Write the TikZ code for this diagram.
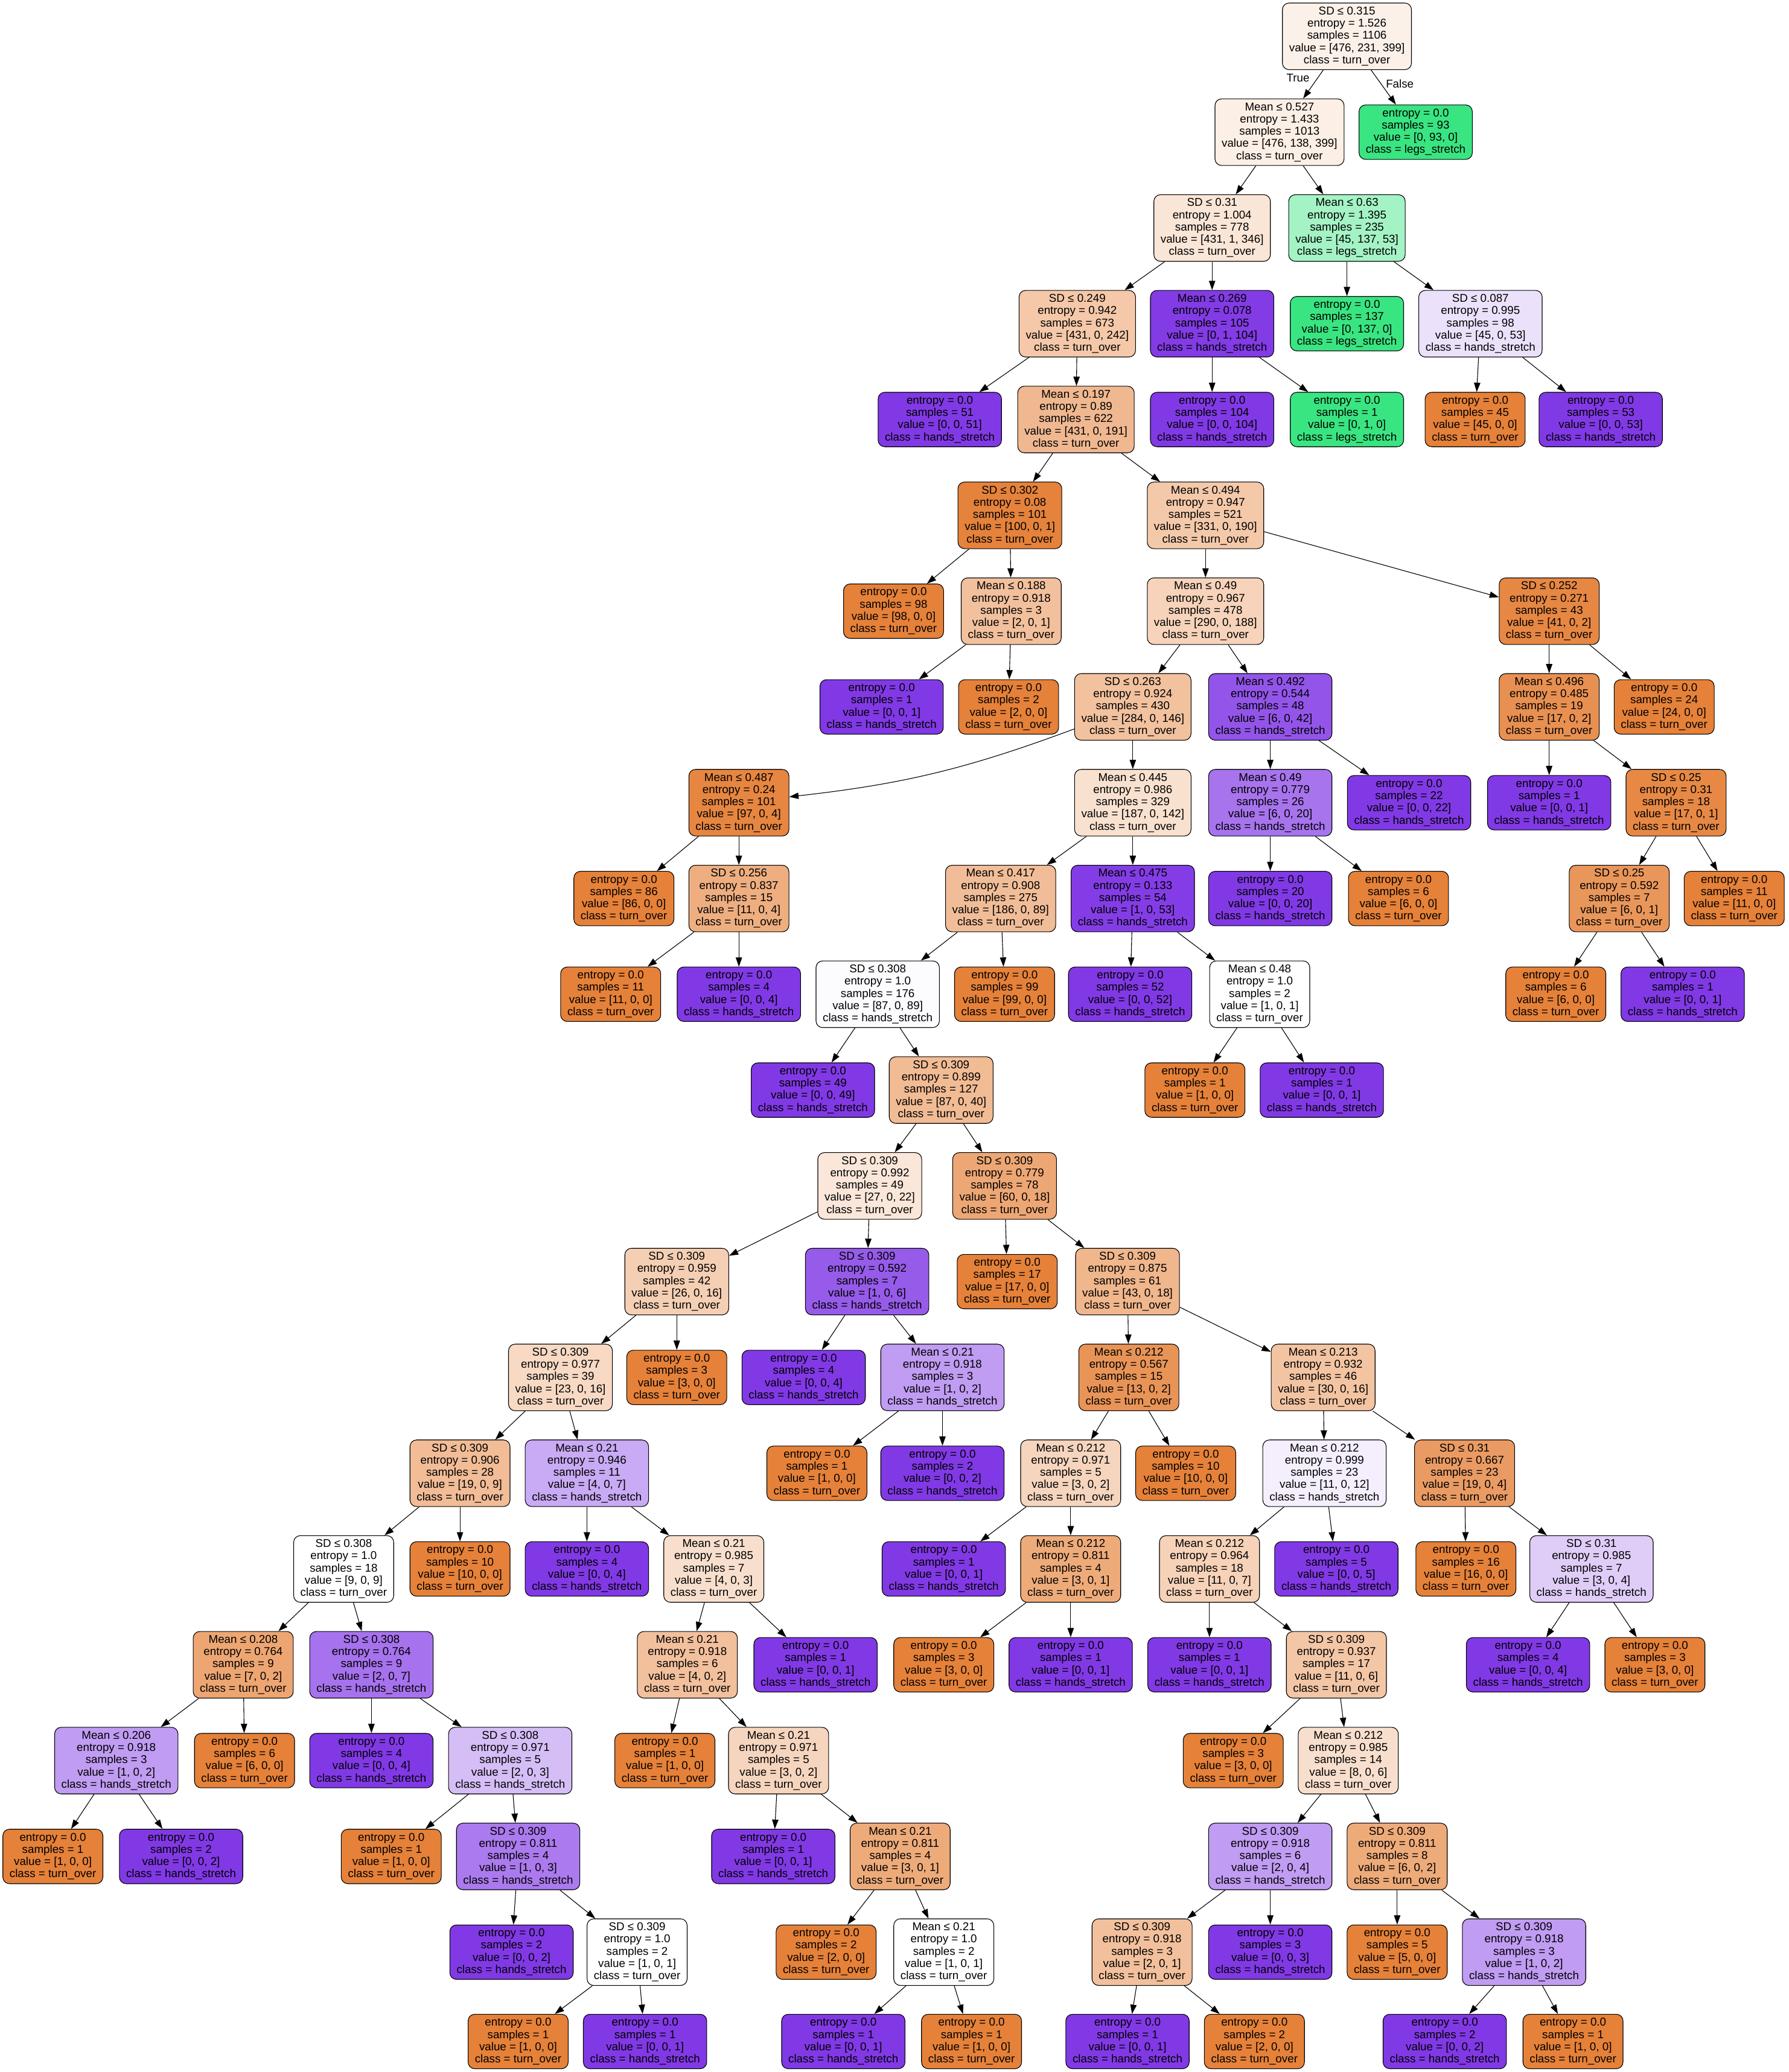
\documentclass[tikz,border=0pt]{standalone}
\usepackage{fontspec}
\setmainfont{Liberation Sans}
\usetikzlibrary{arrows.meta}
\definecolor{TO}{RGB}{229,129,57}
\definecolor{LS}{RGB}{57,229,129}
\definecolor{HS}{RGB}{129,57,229}
\newcommand\itx[5]{#1\\entropy = #2\\samples = #3\\value = [#4]\\class = #5}
\newcommand\ltx[3]{entropy = 0.0\\samples = #1\\value = [#2]\\class = #3}
\newcommand\clsto{turn\_over}
\newcommand\clshs{hands\_stretch}
\newcommand\clsls{legs\_stretch}
\tikzset{
  box/.style={draw=black, line width=0.5pt, rounded corners=5pt, align=center,
    inner xsep=5.1pt, inner ysep=0pt, font=\fontsize{8.57}{9.25}\selectfont},
  int/.style={box, minimum height=50.4pt},
  leaf/.style={box, minimum height=41.2pt},
  lto/.style={leaf, fill=TO},
  lhs/.style={leaf, fill=HS},
  lls/.style={leaf, fill=LS},
  edge/.style={-{Triangle[length=7pt,width=4.8pt]}, line width=0.5pt, draw=black},
  elab/.style={inner sep=0pt, font=\fontsize{8.57}{9.25}\selectfont}
}
\begin{document}
\begin{tikzpicture}[x=1pt,y=-1pt]
\path[use as bounding box, fill=white] (0,0) rectangle (1353,1567.6);
% row 0
\node[int, fill=TO!11!white] (n0) at (1019,27.5) {\itx{SD ≤ 0.315}{1.526}{1106}{476, 231, 399}{\clsto}};
% row 1
\node[int, fill=TO!13!white] (n1) at (968,100.0) {\itx{Mean ≤ 0.527}{1.433}{1013}{476, 138, 399}{\clsto}};
\node[lls] (n2) at (1071,100.0) {\ltx{93}{0, 93, 0}{\clsls}};
% row 2
\node[int, fill=TO!20!white] (n3) at (917,172.5) {\itx{SD ≤ 0.31}{1.004}{778}{431, 1, 346}{\clsto}};
\node[int, fill=LS!46!white] (n4) at (1019,172.5) {\itx{Mean ≤ 0.63}{1.395}{235}{45, 137, 53}{\clsls}};
% row 3
\node[int, fill=TO!44!white] (n5) at (815,244.9) {\itx{SD ≤ 0.249}{0.942}{673}{431, 0, 242}{\clsto}};
\node[int, fill=HS!99!white] (n6) at (917,244.9) {\itx{Mean ≤ 0.269}{0.078}{105}{0, 1, 104}{\clshs}};
\node[lls] (n7) at (1019,244.9) {\ltx{137}{0, 137, 0}{\clsls}};
\node[int, fill=HS!15!white] (n8) at (1120,244.9) {\itx{SD ≤ 0.087}{0.995}{98}{45, 0, 53}{\clshs}};
% row 4
\node[lhs] (n9) at (711,317.4) {\ltx{51}{0, 0, 51}{\clshs}};
\node[int, fill=TO!56!white] (n10) at (814,317.4) {\itx{Mean ≤ 0.197}{0.89}{622}{431, 0, 191}{\clsto}};
\node[lhs] (n11) at (917,317.4) {\ltx{104}{0, 0, 104}{\clshs}};
\node[lls] (n12) at (1019,317.4) {\ltx{1}{0, 1, 0}{\clsls}};
\node[lto] (n13) at (1116,317.4) {\ltx{45}{45, 0, 0}{\clsto}};
\node[lhs] (n14) at (1211,317.4) {\ltx{53}{0, 0, 53}{\clshs}};
% row 5
\node[int, fill=TO!99!white] (n15) at (764,389.9) {\itx{SD ≤ 0.302}{0.08}{101}{100, 0, 1}{\clsto}};
\node[int, fill=TO!43!white] (n16) at (912,389.9) {\itx{Mean ≤ 0.494}{0.947}{521}{331, 0, 190}{\clsto}};
% row 6
\node[lto] (n17) at (676,462.4) {\ltx{98}{98, 0, 0}{\clsto}};
\node[int, fill=TO!50!white] (n18) at (765,462.4) {\itx{Mean ≤ 0.188}{0.918}{3}{2, 0, 1}{\clsto}};
\node[int, fill=TO!35!white] (n19) at (912,462.4) {\itx{Mean ≤ 0.49}{0.967}{478}{290, 0, 188}{\clsto}};
\node[int, fill=TO!95!white] (n20) at (1172,462.4) {\itx{SD ≤ 0.252}{0.271}{43}{41, 0, 2}{\clsto}};
% row 7
\node[lhs] (n21) at (667,534.8) {\ltx{1}{0, 0, 1}{\clshs}};
\node[lto] (n22) at (763,534.8) {\ltx{2}{2, 0, 0}{\clsto}};
\node[int, fill=TO!49!white] (n23) at (857,534.8) {\itx{SD ≤ 0.263}{0.924}{430}{284, 0, 146}{\clsto}};
\node[int, fill=HS!86!white] (n24) at (961,534.8) {\itx{Mean ≤ 0.492}{0.544}{48}{6, 0, 42}{\clshs}};
\node[int, fill=TO!88!white] (n25) at (1172,534.8) {\itx{Mean ≤ 0.496}{0.485}{19}{17, 0, 2}{\clsto}};
\node[lto] (n26) at (1259,534.8) {\ltx{24}{24, 0, 0}{\clsto}};
% row 8
\node[int, fill=TO!96!white] (n27) at (559,607.3) {\itx{Mean ≤ 0.487}{0.24}{101}{97, 0, 4}{\clsto}};
\node[int, fill=TO!24!white] (n28) at (857,607.3) {\itx{Mean ≤ 0.445}{0.986}{329}{187, 0, 142}{\clsto}};
\node[int, fill=HS!70!white] (n29) at (961,607.3) {\itx{Mean ≤ 0.49}{0.779}{26}{6, 0, 20}{\clshs}};
\node[lhs] (n30) at (1066,607.3) {\ltx{22}{0, 0, 22}{\clshs}};
\node[lhs] (n31) at (1172,607.3) {\ltx{1}{0, 0, 1}{\clshs}};
\node[int, fill=TO!94!white] (n32) at (1268,607.3) {\itx{SD ≤ 0.25}{0.31}{18}{17, 0, 1}{\clsto}};
% row 9
\node[lto] (n33) at (472,679.8) {\ltx{86}{86, 0, 0}{\clsto}};
\node[int, fill=TO!64!white] (n34) at (559,679.8) {\itx{SD ≤ 0.256}{0.837}{15}{11, 0, 4}{\clsto}};
\node[int, fill=TO!52!white] (n35) at (757,679.8) {\itx{Mean ≤ 0.417}{0.908}{275}{186, 0, 89}{\clsto}};
\node[int, fill=HS!98!white] (n36) at (857,679.8) {\itx{Mean ≤ 0.475}{0.133}{54}{1, 0, 53}{\clshs}};
\node[lhs] (n37) at (961,679.8) {\ltx{20}{0, 0, 20}{\clshs}};
\node[lto] (n38) at (1058,679.8) {\ltx{6}{6, 0, 0}{\clsto}};
\node[int, fill=TO!83!white] (n39) at (1225,679.8) {\itx{SD ≤ 0.25}{0.592}{7}{6, 0, 1}{\clsto}};
\node[lto] (n40) at (1312,679.8) {\ltx{11}{11, 0, 0}{\clsto}};
% row 10
\node[lto] (n41) at (462,752.2) {\ltx{11}{11, 0, 0}{\clsto}};
\node[lhs] (n42) at (559,752.2) {\ltx{4}{0, 0, 4}{\clshs}};
\node[int, fill=HS!2!white] (n43) at (664,752.2) {\itx{SD ≤ 0.308}{1.0}{176}{87, 0, 89}{\clshs}};
\node[lto] (n44) at (760,752.2) {\ltx{99}{99, 0, 0}{\clsto}};
\node[lhs] (n45) at (855,752.2) {\ltx{52}{0, 0, 52}{\clshs}};
\node[int, fill=white] (n46) at (953,752.2) {\itx{Mean ≤ 0.48}{1.0}{2}{1, 0, 1}{\clsto}};
\node[lto] (n47) at (1177,752.2) {\ltx{6}{6, 0, 0}{\clsto}};
\node[lhs] (n48) at (1273,752.2) {\ltx{1}{0, 0, 1}{\clshs}};
% row 11
\node[lhs] (n49) at (615,824.7) {\ltx{49}{0, 0, 49}{\clshs}};
\node[int, fill=TO!54!white] (n50) at (712,824.7) {\itx{SD ≤ 0.309}{0.899}{127}{87, 0, 40}{\clsto}};
\node[lto] (n51) at (904,824.7) {\ltx{1}{1, 0, 0}{\clsto}};
\node[lhs] (n52) at (1000,824.7) {\ltx{1}{0, 0, 1}{\clshs}};
% row 12
\node[int, fill=TO!19!white] (n53) at (658,897.2) {\itx{SD ≤ 0.309}{0.992}{49}{27, 0, 22}{\clsto}};
\node[int, fill=TO!70!white] (n54) at (760,897.2) {\itx{SD ≤ 0.309}{0.779}{78}{60, 0, 18}{\clsto}};
% row 13
\node[int, fill=TO!38!white] (n55) at (512,969.6) {\itx{SD ≤ 0.309}{0.959}{42}{26, 0, 16}{\clsto}};
\node[int, fill=HS!83!white] (n56) at (656,969.6) {\itx{SD ≤ 0.309}{0.592}{7}{1, 0, 6}{\clshs}};
\node[lto] (n57) at (762,969.6) {\ltx{17}{17, 0, 0}{\clsto}};
\node[int, fill=TO!58!white] (n58) at (853,969.6) {\itx{SD ≤ 0.309}{0.875}{61}{43, 0, 18}{\clsto}};
% row 14
\node[int, fill=TO!30!white] (n59) at (424,1042.1) {\itx{SD ≤ 0.309}{0.977}{39}{23, 0, 16}{\clsto}};
\node[lto] (n60) at (512,1042.1) {\ltx{3}{3, 0, 0}{\clsto}};
\node[lhs] (n61) at (608,1042.1) {\ltx{4}{0, 0, 4}{\clshs}};
\node[int, fill=HS!50!white] (n62) at (713,1042.1) {\itx{Mean ≤ 0.21}{0.918}{3}{1, 0, 2}{\clshs}};
\node[int, fill=TO!85!white] (n63) at (854,1042.1) {\itx{Mean ≤ 0.212}{0.567}{15}{13, 0, 2}{\clsto}};
\node[int, fill=TO!47!white] (n64) at (1001,1042.1) {\itx{Mean ≤ 0.213}{0.932}{46}{30, 0, 16}{\clsto}};
% row 15
\node[int, fill=TO!53!white] (n65) at (348,1114.6) {\itx{SD ≤ 0.309}{0.906}{28}{19, 0, 9}{\clsto}};
\node[int, fill=HS!43!white] (n66) at (444,1114.6) {\itx{Mean ≤ 0.21}{0.946}{11}{4, 0, 7}{\clshs}};
\node[lto] (n67) at (618,1114.6) {\ltx{1}{1, 0, 0}{\clsto}};
\node[lhs] (n68) at (713,1114.6) {\ltx{2}{0, 0, 2}{\clshs}};
\node[int, fill=TO!33!white] (n69) at (810,1114.6) {\itx{Mean ≤ 0.212}{0.971}{5}{3, 0, 2}{\clsto}};
\node[lto] (n70) at (897,1114.6) {\ltx{10}{10, 0, 0}{\clsto}};
\node[int, fill=HS!8!white] (n71) at (1002,1114.6) {\itx{Mean ≤ 0.212}{0.999}{23}{11, 0, 12}{\clshs}};
\node[int, fill=TO!79!white] (n72) at (1108,1114.6) {\itx{SD ≤ 0.31}{0.667}{23}{19, 0, 4}{\clsto}};
% row 16
\node[int, fill=white] (n73) at (260,1187.0) {\itx{SD ≤ 0.308}{1.0}{18}{9, 0, 9}{\clsto}};
\node[lto] (n74) at (348,1187.0) {\ltx{10}{10, 0, 0}{\clsto}};
\node[lhs] (n75) at (444,1187.0) {\ltx{4}{0, 0, 4}{\clshs}};
\node[int, fill=TO!25!white] (n76) at (540,1187.0) {\itx{Mean ≤ 0.21}{0.985}{7}{4, 0, 3}{\clsto}};
\node[lhs] (n77) at (714,1187.0) {\ltx{1}{0, 0, 1}{\clshs}};
\node[int, fill=TO!67!white] (n78) at (810,1187.0) {\itx{Mean ≤ 0.212}{0.811}{4}{3, 0, 1}{\clsto}};
\node[int, fill=TO!36!white] (n79) at (915,1187.0) {\itx{Mean ≤ 0.212}{0.964}{18}{11, 0, 7}{\clsto}};
\node[lhs] (n80) at (1011,1187.0) {\ltx{5}{0, 0, 5}{\clshs}};
\node[lto] (n81) at (1109,1187.0) {\ltx{16}{16, 0, 0}{\clsto}};
\node[int, fill=HS!25!white] (n82) at (1204,1187.0) {\itx{SD ≤ 0.31}{0.985}{7}{3, 0, 4}{\clshs}};
% row 17
\node[int, fill=TO!71!white] (n83) at (184,1259.5) {\itx{Mean ≤ 0.208}{0.764}{9}{7, 0, 2}{\clsto}};
\node[int, fill=HS!71!white] (n84) at (281,1259.5) {\itx{SD ≤ 0.308}{0.764}{9}{2, 0, 7}{\clshs}};
\node[int, fill=TO!50!white] (n85) at (520,1259.5) {\itx{Mean ≤ 0.21}{0.918}{6}{4, 0, 2}{\clsto}};
\node[lhs] (n86) at (617,1259.5) {\ltx{1}{0, 0, 1}{\clshs}};
\node[lto] (n87) at (714,1259.5) {\ltx{3}{3, 0, 0}{\clsto}};
\node[lhs] (n88) at (810,1259.5) {\ltx{1}{0, 0, 1}{\clshs}};
\node[lhs] (n89) at (915,1259.5) {\ltx{1}{0, 0, 1}{\clshs}};
\node[int, fill=TO!45!white] (n90) at (1011,1259.5) {\itx{SD ≤ 0.309}{0.937}{17}{11, 0, 6}{\clsto}};
\node[lhs] (n91) at (1156,1259.5) {\ltx{4}{0, 0, 4}{\clshs}};
\node[lto] (n92) at (1252,1259.5) {\ltx{3}{3, 0, 0}{\clsto}};
% row 18
\node[int, fill=HS!50!white] (n93) at (88,1332.0) {\itx{Mean ≤ 0.206}{0.918}{3}{1, 0, 2}{\clshs}};
\node[lto] (n94) at (185,1332.0) {\ltx{6}{6, 0, 0}{\clsto}};
\node[lhs] (n95) at (281,1332.0) {\ltx{4}{0, 0, 4}{\clshs}};
\node[int, fill=HS!33!white] (n96) at (386,1332.0) {\itx{SD ≤ 0.308}{0.971}{5}{2, 0, 3}{\clshs}};
\node[lto] (n97) at (503,1332.0) {\ltx{1}{1, 0, 0}{\clsto}};
\node[int, fill=TO!33!white] (n98) at (589,1332.0) {\itx{Mean ≤ 0.21}{0.971}{5}{3, 0, 2}{\clsto}};
\node[lto] (n99) at (933,1332.0) {\ltx{3}{3, 0, 0}{\clsto}};
\node[int, fill=TO!25!white] (n100) at (1020,1332.0) {\itx{Mean ≤ 0.212}{0.985}{14}{8, 0, 6}{\clsto}};
% row 19
\node[lto] (n101) at (40,1404.5) {\ltx{1}{1, 0, 0}{\clsto}};
\node[lhs] (n102) at (137,1404.5) {\ltx{2}{0, 0, 2}{\clshs}};
\node[lto] (n103) at (296,1404.5) {\ltx{1}{1, 0, 0}{\clsto}};
\node[int, fill=HS!67!white] (n104) at (392,1404.5) {\itx{SD ≤ 0.309}{0.811}{4}{1, 0, 3}{\clshs}};
\node[lhs] (n105) at (585,1404.5) {\ltx{1}{0, 0, 1}{\clshs}};
\node[int, fill=TO!67!white] (n106) at (681,1404.5) {\itx{Mean ≤ 0.21}{0.811}{4}{3, 0, 1}{\clsto}};
\node[int, fill=HS!50!white] (n107) at (961,1404.5) {\itx{SD ≤ 0.309}{0.918}{6}{2, 0, 4}{\clshs}};
\node[int, fill=TO!67!white] (n108) at (1057,1404.5) {\itx{SD ≤ 0.309}{0.811}{8}{6, 0, 2}{\clsto}};
% row 20
\node[lhs] (n109) at (387,1476.9) {\ltx{2}{0, 0, 2}{\clshs}};
\node[int, fill=white] (n110) at (482,1476.9) {\itx{SD ≤ 0.309}{1.0}{2}{1, 0, 1}{\clsto}};
\node[lto] (n111) at (625,1476.9) {\ltx{2}{2, 0, 0}{\clsto}};
\node[int, fill=white] (n112) at (714,1476.9) {\itx{Mean ≤ 0.21}{1.0}{2}{1, 0, 1}{\clsto}};
\node[int, fill=TO!50!white] (n113) at (864,1476.9) {\itx{SD ≤ 0.309}{0.918}{3}{2, 0, 1}{\clsto}};
\node[lhs] (n114) at (961,1476.9) {\ltx{3}{0, 0, 3}{\clshs}};
\node[lto] (n115) at (1057,1476.9) {\ltx{5}{5, 0, 0}{\clsto}};
\node[int, fill=HS!50!white] (n116) at (1153,1476.9) {\itx{SD ≤ 0.309}{0.918}{3}{1, 0, 2}{\clshs}};
% row 21
\node[lto] (n117) at (392,1544.5) {\ltx{1}{1, 0, 0}{\clsto}};
\node[lhs] (n118) at (488,1544.5) {\ltx{1}{0, 0, 1}{\clshs}};
\node[lhs] (n119) at (638,1544.5) {\ltx{1}{0, 0, 1}{\clshs}};
\node[lto] (n120) at (735,1544.5) {\ltx{1}{1, 0, 0}{\clsto}};
\node[lhs] (n121) at (853,1544.5) {\ltx{1}{0, 0, 1}{\clshs}};
\node[lto] (n122) at (949,1544.5) {\ltx{2}{2, 0, 0}{\clsto}};
\node[lhs] (n123) at (1093,1544.5) {\ltx{2}{0, 0, 2}{\clshs}};
\node[lto] (n124) at (1190,1544.5) {\ltx{1}{1, 0, 0}{\clsto}};
% edge labels
\node[elab] (tlab) at (982,59) {True};
\node[elab] (flab) at (1059,63.5) {False};
% edges
\foreach \p/\c in {0/1,0/2,1/3,1/4,3/5,3/6,4/7,4/8,5/9,5/10,6/11,6/12,8/13,8/14,
  10/15,10/16,15/17,15/18,16/19,16/20,18/21,18/22,19/23,19/24,20/25,20/26,
  23/28,24/29,24/30,25/31,25/32,27/33,27/34,28/35,28/36,29/37,29/38,32/39,32/40,
  34/41,34/42,35/43,35/44,36/45,36/46,39/47,39/48,43/49,43/50,46/51,46/52,
  50/53,50/54,53/55,53/56,54/57,54/58,55/59,55/60,56/61,56/62,58/63,58/64,
  59/65,59/66,62/67,62/68,63/69,63/70,64/71,64/72,65/73,65/74,66/75,66/76,
  69/77,69/78,71/79,71/80,72/81,72/82,73/83,73/84,76/85,76/86,78/87,78/88,
  79/89,79/90,82/91,82/92,83/93,83/94,84/95,84/96,85/97,85/98,90/99,90/100,
  93/101,93/102,96/103,96/104,98/105,98/106,100/107,100/108,104/109,104/110,
  106/111,106/112,107/113,107/114,108/115,108/116,110/117,110/118,112/119,112/120,
  113/121,113/122,116/123,116/124}
  {\draw[edge] (n\p) -- (n\c);}
\draw[edge] (n23) to[bend left=7] (n27);
\end{tikzpicture}
\end{document}
